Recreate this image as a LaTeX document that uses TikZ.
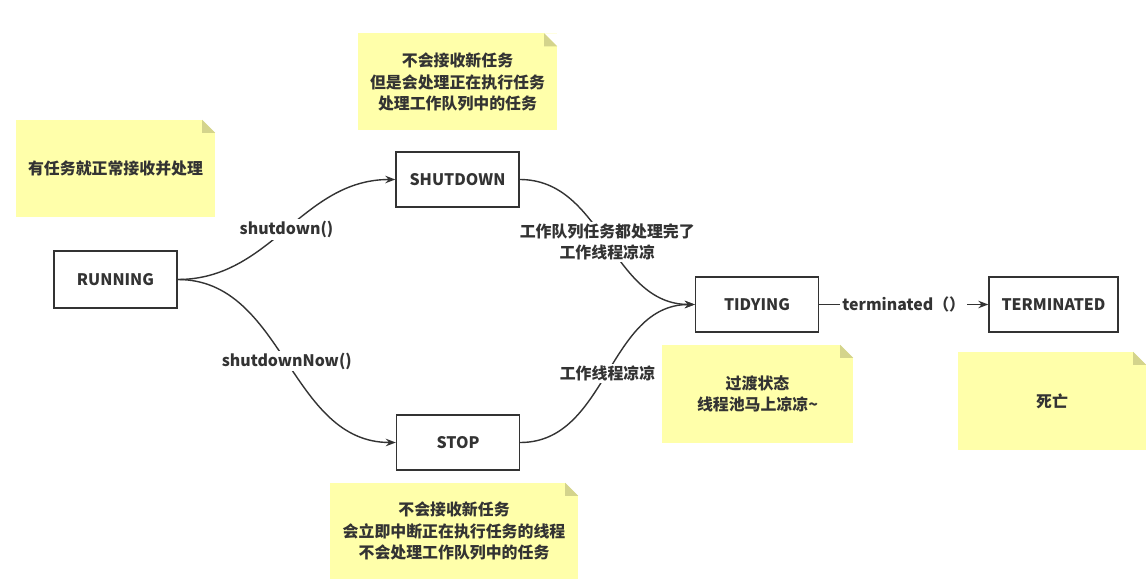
\documentclass[tikz,border=0pt]{standalone}
\usepackage{fontspec}
\setmainfont{Noto Sans CJK SC}
\usetikzlibrary{arrows.meta,calc}
\definecolor{notey}{HTML}{FFFFAA}
\definecolor{notefold}{HTML}{D4D48C}
\definecolor{ink}{HTML}{333333}
\newcommand\foldcorner[1]{%
  \fill[white] ($(#1.north east)+(-13,0)$) -- (#1.north east) -- ($(#1.north east)+(0,13)$) -- cycle;
  \fill[notefold] ($(#1.north east)+(-13,0)$) -- ($(#1.north east)+(-13,13)$) -- ($(#1.north east)+(0,13)$) -- cycle;}
\begin{document}
\begin{tikzpicture}[x=1pt,y=-1pt,
  every node/.style={font=\fontsize{15.9}{21.5}\selectfont\bfseries, text=ink},
  state/.style={draw=ink, line width=1.4pt, fill=white, minimum width=123pt, minimum height=55pt, inner sep=0pt},
  note/.style={fill=notey, align=center, inner sep=0pt},
  conn/.style={draw=ink, line width=1.4pt, -{Stealth[length=10pt,width=7.5pt]}},
  lbl/.style={fill=white, inner sep=2pt, align=center}]
\useasboundingbox[fill=white] (0,0) rectangle (1146,588);

% notes
\node[note, minimum width=199pt, minimum height=97pt] (n1) at (115.5,168.5) {有任务就正常接收并处理};
\node[note, minimum width=199pt, minimum height=97pt] (n2) at (457.5,82) {不会接收新任务\\但是会处理正在执行任务\\处理工作队列中的任务};
\node[note, minimum width=191pt, minimum height=98pt] (n3) at (757.5,394) {过渡状态\\线程池马上凉凉\textasciitilde};
\node[note, minimum width=188pt, minimum height=98pt] (n4) at (1052,401) {死亡};
\node[note, minimum width=248pt, minimum height=96pt] (n5) at (454,531) {不会接收新任务\\会立即中断正在执行任务的线程\\不会处理工作队列中的任务};
\foldcorner{n1}\foldcorner{n2}\foldcorner{n3}\foldcorner{n4}\foldcorner{n5}

% states
\node[state, minimum height=57pt] (run) at (115.5,279.5) {RUNNING};
\node[state] (shut) at (457.5,179.5) {SHUTDOWN};
\node[state] (stop) at (458,442.5) {STOP};
\node[state] (tidy) at (757,304.5) {TIDYING};
\node[state, minimum width=129pt] (term) at (1053.5,304.5) {TERMINATED};

% connectors
\draw[conn] (run.east) to[out=0,in=180] node[lbl] {shutdown()} (shut.west);
\draw[conn] (run.east) to[out=0,in=180] node[lbl] {shutdownNow()} (stop.west);
\draw[conn] (shut.east) to[out=0,in=180] node[lbl] {工作队列任务都处理完了\\工作线程凉凉} (tidy.west);
\draw[conn] (stop.east) to[out=0,in=180] node[lbl] {工作线程凉凉} (tidy.west);
\draw[conn] (tidy.east) -- node[lbl] {terminated（）} (term.west);
\end{tikzpicture}
\end{document}
